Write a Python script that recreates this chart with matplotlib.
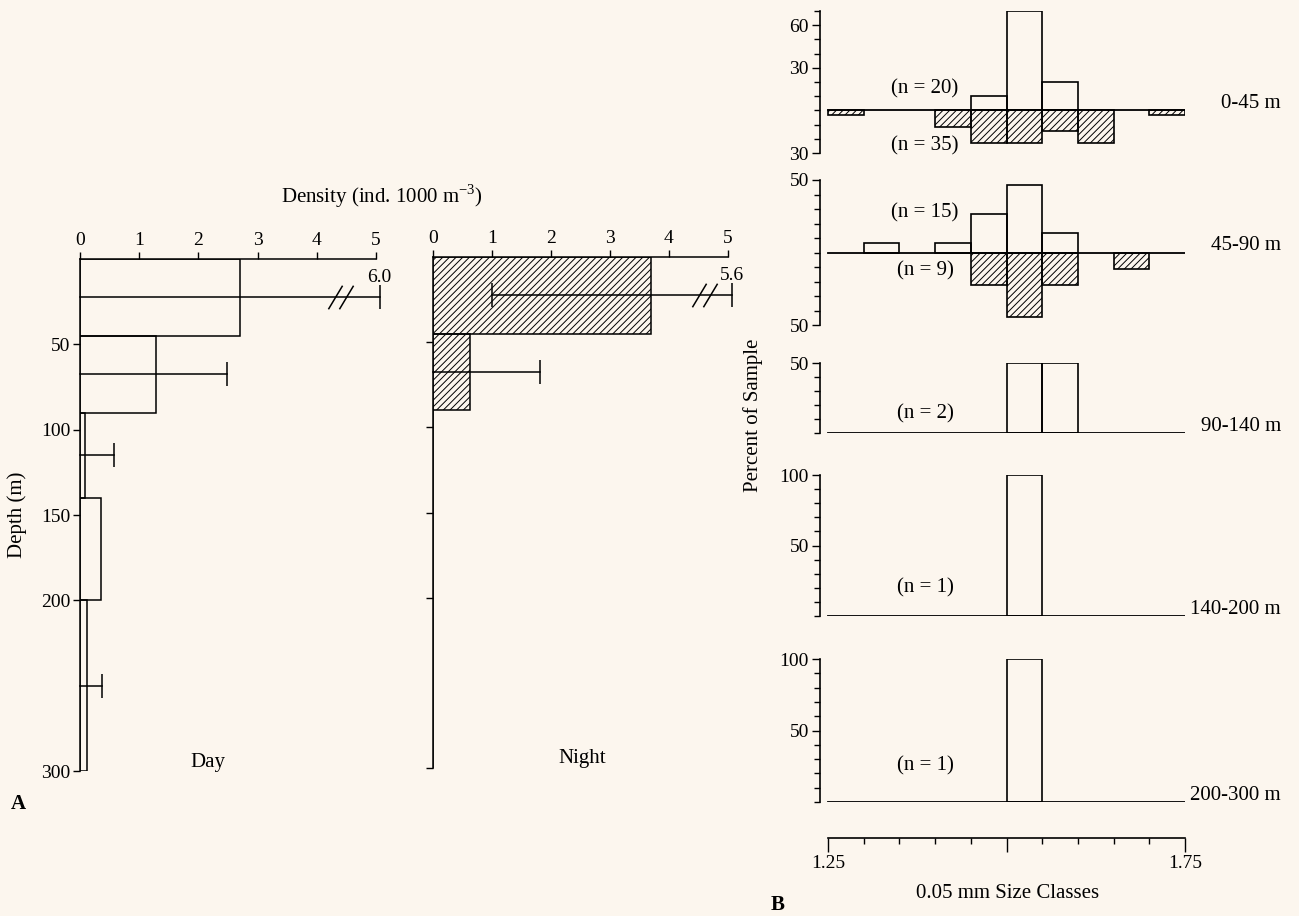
import numpy as np
import matplotlib
matplotlib.use('Agg')
import matplotlib.pyplot as plt
from matplotlib.ticker import FixedLocator, FuncFormatter

plt.rcParams['font.family'] = ['Liberation Serif', 'DejaVu Serif']
plt.rcParams['mathtext.fontset'] = 'custom'
plt.rcParams['mathtext.rm'] = 'Liberation Serif'
plt.rcParams['hatch.linewidth'] = 0.7

# depth strata (m)
depth_edges = np.array([0, 45, 90, 140, 200, 300])
strata = ['0-45 m', '45-90 m', '90-140 m', '140-200 m', '200-300 m']

# mean density (ind. 1000 m-3) and error bar limits per stratum
day_mean = [2.7, 1.28, 0.09, 0.36, 0.11]
day_lo = [0.0, 0.0, 0.0, np.nan, 0.0]
day_hi = [6.0, 2.48, 0.58, np.nan, 0.37]
night_mean = [3.7, 0.63, 0.0, 0.0, 0.0]
night_lo = [1.0, 0.0, np.nan, np.nan, np.nan]
night_hi = [5.6, 1.82, np.nan, np.nan, np.nan]

# size classes (mm), left edges of 0.05 mm bins
size_bins = np.round(np.arange(1.25, 1.749, 0.05), 2)

# percent of sample per size class, day (up) and night (down)
day_pct = [
    [0, 0, 0, 0, 10, 70, 20, 0, 0, 0],
    [0, 6.7, 0, 6.7, 26.7, 46.7, 13.3, 0, 0, 0],
    [0, 0, 0, 0, 0, 50, 50, 0, 0, 0],
    [0, 0, 0, 0, 0, 100, 0, 0, 0, 0],
    [0, 0, 0, 0, 0, 100, 0, 0, 0, 0],
]
night_pct = [
    [2.9, 0, 0, 11.4, 22.9, 22.9, 14.3, 22.9, 0, 2.9],
    [0, 0, 0, 0, 22.2, 44.4, 22.2, 0, 11.1, 0],
    None, None, None,
]
n_day = [20, 15, 2, 1, 1]
n_night = [35, 9, None, None, None]

W, H = 1299, 916
fig = plt.figure(figsize=(W / 100, H / 100), dpi=100, facecolor='#fcf6ee')


def px_axes(x0, y0, x1, y1):
    return fig.add_axes([x0 / W, 1 - y1 / H, (x1 - x0) / W, (y1 - y0) / H])


def density_panel(ax, mean, lo, hi, brk, hatch, ylabels):
    mids = (depth_edges[:-1] + depth_edges[1:]) / 2
    ax.barh(mids, mean, height=np.diff(depth_edges), left=0, facecolor='none',
            edgecolor='black', lw=1.1, hatch=hatch)
    ax.set_xlim(0, 5)
    ax.set_ylim(300, 0)
    ax.patch.set_visible(False)
    for s in ['right', 'bottom']:
        ax.spines[s].set_visible(False)
    for s in ['top', 'left']:
        ax.spines[s].set_linewidth(1.1)
    ax.xaxis.tick_top()
    ax.set_xticks(range(6))
    ax.set_yticks([50, 100, 150, 200, 300])
    if not ylabels:
        ax.set_yticklabels([])
    ax.tick_params(axis='both', direction='out', length=5, width=1, labelsize=14, pad=2)

    for m, l, h in zip(mids, lo, hi):
        if np.isnan(h):
            continue
        x_end = min(h, 5.06)  # scale broken beyond 5
        ax.plot([l, x_end], [m, m], color='k', lw=1.1, clip_on=False)
        ax.plot([x_end], [m], marker='|', ms=17, mew=1.1, color='k', clip_on=False)
        if l > 0:
            ax.plot([l], [m], marker='|', ms=17, mew=1.1, color='k')
        if h > 5:
            ax.plot([brk - 0.09, brk + 0.09], [m, m], ls='none',
                    marker=[(-0.6, -1), (0.6, 1)], ms=17, mew=1.1, color='k',
                    clip_on=False)
            ax.annotate(f'{h:.1f}', (x_end, m), xytext=(0, 8), textcoords='offset points',
                        ha='center', va='bottom', fontsize=14, annotation_clip=False)


ax_day = px_axes(80, 259, 376, 771)
density_panel(ax_day, day_mean, day_lo, day_hi, 4.4, None, True)
ax_night = px_axes(433, 257, 728, 768)
density_panel(ax_night, night_mean, night_lo, night_hi, 4.6, '/////', False)

fig.text(382 / W, 1 - 196 / H, 'Density (ind. 1000 m$^{\\mathregular{-3}}$)',
         ha='center', va='center', fontsize=15)
fig.text(17 / W, 1 - 515 / H, 'Depth (m)', rotation=90, ha='center', va='center', fontsize=15)
fig.text(208 / W, 1 - 763 / H, 'Day', ha='center', va='center', fontsize=15)
fig.text(582 / W, 1 - 759 / H, 'Night', ha='center', va='center', fontsize=15)
fig.text(18 / W, 1 - 804 / H, 'A', ha='center', va='center', fontsize=15, fontweight='bold')

# size-frequency panels
boxes = [(11, 153), (180, 325), (363, 433), (475, 616), (659, 802)]
ylims = [(-30, 70), (-50, 50), (0, 50), (0, 100), (0, 100)]
majors = [[60, 30, -30], [50, -50], [50], [100, 50], [100, 50]]
n_pos = [(15, -25), (27, -13), (14, None), (20, None), (25, None)]
x_left = 1.25 - 8 / 714

for i in range(5):
    top, bot = boxes[i]
    ax = px_axes(820, top, 1185, bot)
    ax.patch.set_visible(False)
    up = np.array(day_pct[i], dtype=float)
    m = up > 0
    ax.bar(size_bins[m], up[m], width=0.05, align='edge', facecolor='none',
           edgecolor='k', lw=1.2)
    if night_pct[i] is not None:
        dn = np.array(night_pct[i], dtype=float)
        m = dn > 0
        ax.bar(size_bins[m], -dn[m], width=0.05, align='edge', facecolor='none',
               edgecolor='k', lw=1.2, hatch='/////')
    ax.plot([1.25, 1.75], [0, 0], color='k', lw=1.3)
    ax.set_xlim(x_left, 1.75)
    ax.set_ylim(*ylims[i])
    for s in ['top', 'right', 'bottom']:
        ax.spines[s].set_visible(False)
    ax.spines['left'].set_linewidth(1.2)
    ax.set_xticks([])
    ax.yaxis.set_major_locator(FixedLocator(majors[i]))
    ax.yaxis.set_minor_locator(FixedLocator(range(ylims[i][0], ylims[i][1] + 1, 10)))
    ax.yaxis.set_major_formatter(FuncFormatter(lambda v, p: f'{abs(v):.0f}'))
    ax.tick_params(axis='y', which='major', direction='out', length=6, width=1, labelsize=14, pad=2)
    ax.tick_params(axis='y', which='minor', direction='out', length=4, width=1)

    yu, yd = n_pos[i]
    ax.text(1.386, yu, f'(n = {n_day[i]})', ha='center', va='center', fontsize=15)
    if yd is not None:
        ax.text(1.386, yd, f'(n = {n_night[i]})', ha='center', va='center', fontsize=15)
    ax.annotate(strata[i], xy=(1281 / W, 0), xycoords=('figure fraction', 'data'),
                xytext=(0, 5), textcoords='offset points', ha='right', va='center',
                fontsize=15, annotation_clip=False)

# shared size-class axis
axx = px_axes(820, 830, 1185, 838)
axx.patch.set_visible(False)
for s in ['top', 'right', 'left']:
    axx.spines[s].set_visible(False)
axx.spines['bottom'].set_bounds(1.25, 1.75)
axx.spines['bottom'].set_linewidth(1.2)
axx.set_xlim(x_left, 1.75)
axx.set_yticks([])
axx.set_xticks([1.25, 1.5, 1.75])
axx.set_xticklabels(['1.25', '', '1.75'])
axx.set_xticks(size_bins, minor=True)
axx.tick_params(axis='x', which='major', direction='out', length=10, width=1, labelsize=14, pad=2)
axx.tick_params(axis='x', which='minor', direction='out', length=4, width=1)
fig.text(1008 / W, 1 - 893 / H, '0.05 mm Size Classes', ha='center', va='center', fontsize=15)
fig.text(753 / W, 1 - 415 / H, 'Percent of Sample', rotation=90, ha='center', va='center', fontsize=15)
fig.text(778 / W, 1 - 905 / H, 'B', ha='center', va='center', fontsize=15, fontweight='bold')

fig.savefig('out.png', dpi=100, facecolor=fig.get_facecolor())
